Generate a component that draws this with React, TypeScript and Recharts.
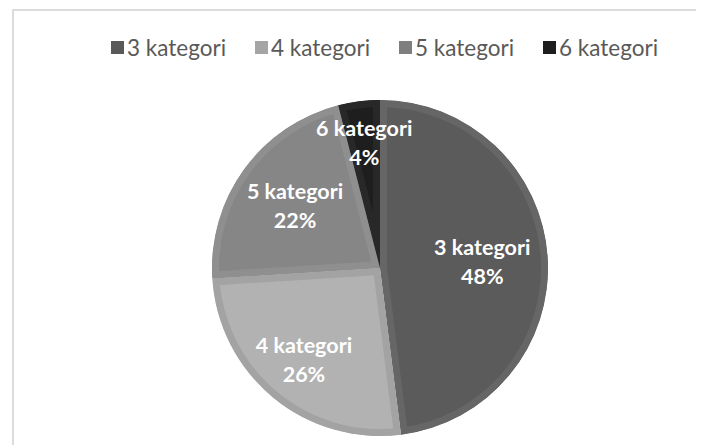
import React from 'react';
import { PieChart, Pie, Cell, Sector } from 'recharts';

const categories = ['3 kategori', '4 kategori', '5 kategori', '6 kategori'];
const shares = [48, 26, 22, 4];

const LEGEND_COLORS = ['#595959', '#a5a5a5', '#7f7f7f', '#1e1e1e'];
const FILLS = ['#5b5b5b', '#b2b2b2', '#868686', '#1e1e1e'];
const EDGES = ['#666666', '#a3a3a3', '#8f8f8f', '#282828'];
// how far out each label sits, as a share of the radius
const LABEL_POS = [0.61, 0.71, 0.625, 0.75];

const data = categories.map((name, i) => ({ name, value: shares[i] }));

const RADIAN = Math.PI / 180;
const FONT = 'Lato, "Open Sans", sans-serif';

const BevelSector = (props: any) => {
  const id = `clip-${props.index}`;
  return (
    <g>
      <defs>
        <clipPath id={id}>
          <Sector {...props} stroke="none" />
        </clipPath>
      </defs>
      <Sector
        {...props}
        fill={FILLS[props.index]}
        stroke={EDGES[props.index]}
        strokeWidth={14}
        clipPath={`url(#${id})`}
      />
    </g>
  );
};

const renderLabel = (props: any) => {
  const { cx, cy, midAngle, outerRadius, index, name, percent } = props;
  const r = outerRadius * LABEL_POS[index];
  const x = cx + r * Math.cos(-midAngle * RADIAN);
  const y = cy + r * Math.sin(-midAngle * RADIAN);
  return (
    <text
      x={x}
      y={y}
      fill="#ffffff"
      textAnchor="middle"
      fontFamily={FONT}
      fontWeight={700}
      fontSize={21.5}
    >
      <tspan x={x} y={y - 7}>{name}</tspan>
      <tspan x={x} y={y + 22}>{`${Math.round(percent * 100)}%`}</tspan>
    </text>
  );
};

export default function App() {
  return (
    <div style={{ position: 'relative', width: 696, height: 437, overflow: 'hidden', background: '#fff' }}>
      <div
        style={{
          position: 'absolute',
          left: 4,
          top: 1,
          width: 720,
          height: 460,
          border: '2px solid #dcdcdc',
          boxSizing: 'border-box',
        }}
      />
      <div
        style={{
          position: 'absolute',
          left: 103,
          top: 26,
          display: 'flex',
          fontFamily: FONT,
          fontSize: 22.5,
          color: '#595959',
        }}
      >
        {categories.map((c, i) => (
          <div key={c} style={{ display: 'flex', alignItems: 'center', width: 144 }}>
            <span
              style={{
                display: 'inline-block',
                width: 13,
                height: 13,
                background: LEGEND_COLORS[i],
                marginRight: 3,
              }}
            />
            <span>{c}</span>
          </div>
        ))}
      </div>
      <div style={{ position: 'absolute', left: 0, top: 0 }}>
        <PieChart width={696} height={437} margin={{ top: 0, right: 0, bottom: 0, left: 0 }}>
          <Pie
            data={data}
            dataKey="value"
            nameKey="name"
            cx={372}
            cy={260}
            outerRadius={168}
            startAngle={90}
            endAngle={-270}
            stroke="none"
            shape={BevelSector}
            label={renderLabel}
            labelLine={false}
            isAnimationActive={false}
          >
            {data.map((d, i) => (
              <Cell key={d.name} fill={FILLS[i]} />
            ))}
          </Pie>
        </PieChart>
      </div>
    </div>
  );
}
